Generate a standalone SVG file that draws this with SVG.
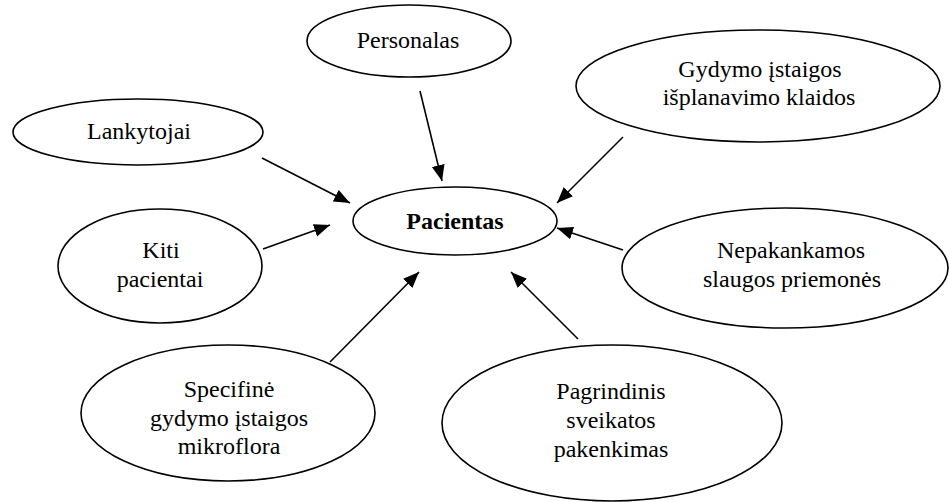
<svg xmlns="http://www.w3.org/2000/svg" width="949" height="502" viewBox="0 0 949 502" font-family="'Liberation Serif', 'Times New Roman', 'DejaVu Serif', serif">
<style>
.node ellipse{fill:#fff;stroke:#000;stroke-width:1.6}
.node text{font-family:'Liberation Serif','Times New Roman','DejaVu Serif',serif;font-size:24px;fill:#000;text-anchor:middle}
.node text.b{font-weight:bold}
#connectors line{stroke:#000;stroke-width:1.6;marker-end:url(#ah)}
</style>
<defs>
<marker id="ah" markerUnits="userSpaceOnUse" markerWidth="17" markerHeight="14" refX="16" refY="6.5" orient="auto">
<path d="M0,0 L16,6.5 L0,13 z" fill="#000"/>
</marker>
</defs>
<rect width="949" height="502" fill="#fff"/>
<g id="connectors">
<line x1="420" y1="91" x2="442" y2="181"/>
<line x1="262" y1="158" x2="350" y2="203"/>
<line x1="263" y1="249" x2="330" y2="225"/>
<line x1="623" y1="137" x2="557" y2="203"/>
<line x1="623" y1="250" x2="557" y2="228"/>
<line x1="330" y1="362" x2="419" y2="272"/>
<line x1="578" y1="339" x2="511" y2="272"/>
</g>
<g id="personalas" class="node"><ellipse cx="409" cy="41" rx="102" ry="36"/><text x="408" y="48">Personalas</text></g>
<g id="pacientas" class="node"><ellipse cx="455" cy="221" rx="102" ry="34"/><text class="b" x="455" y="229">Pacientas</text></g>
<g id="lankytojai" class="node"><ellipse cx="138" cy="132" rx="125" ry="33"/><text x="139" y="139">Lankytojai</text></g>
<g id="kiti" class="node"><ellipse cx="160" cy="266" rx="102" ry="57"/><text x="161" y="258">Kiti</text><text x="160" y="287">pacientai</text></g>
<g id="gydymo" class="node"><ellipse cx="758" cy="86" rx="182" ry="56"/><text x="760" y="77">Gydymo įstaigos</text><text x="759" y="105">išplanavimo klaidos</text></g>
<g id="nepakankamos" class="node"><ellipse cx="785" cy="268" rx="163" ry="60"/><text x="791" y="258">Nepakankamos</text><text x="792" y="287">slaugos priemonės</text></g>
<g id="specifine" class="node"><ellipse cx="228" cy="413" rx="147" ry="68"/><text x="229" y="397">Specifinė</text><text x="229" y="426">gydymo įstaigos</text><text x="229" y="454">mikroflora</text></g>
<g id="pagrindinis" class="node"><ellipse cx="612" cy="423" rx="170" ry="78"/><text x="611" y="399">Pagrindinis</text><text x="611" y="428">sveikatos</text><text x="611" y="457">pakenkimas</text></g>
</svg>
